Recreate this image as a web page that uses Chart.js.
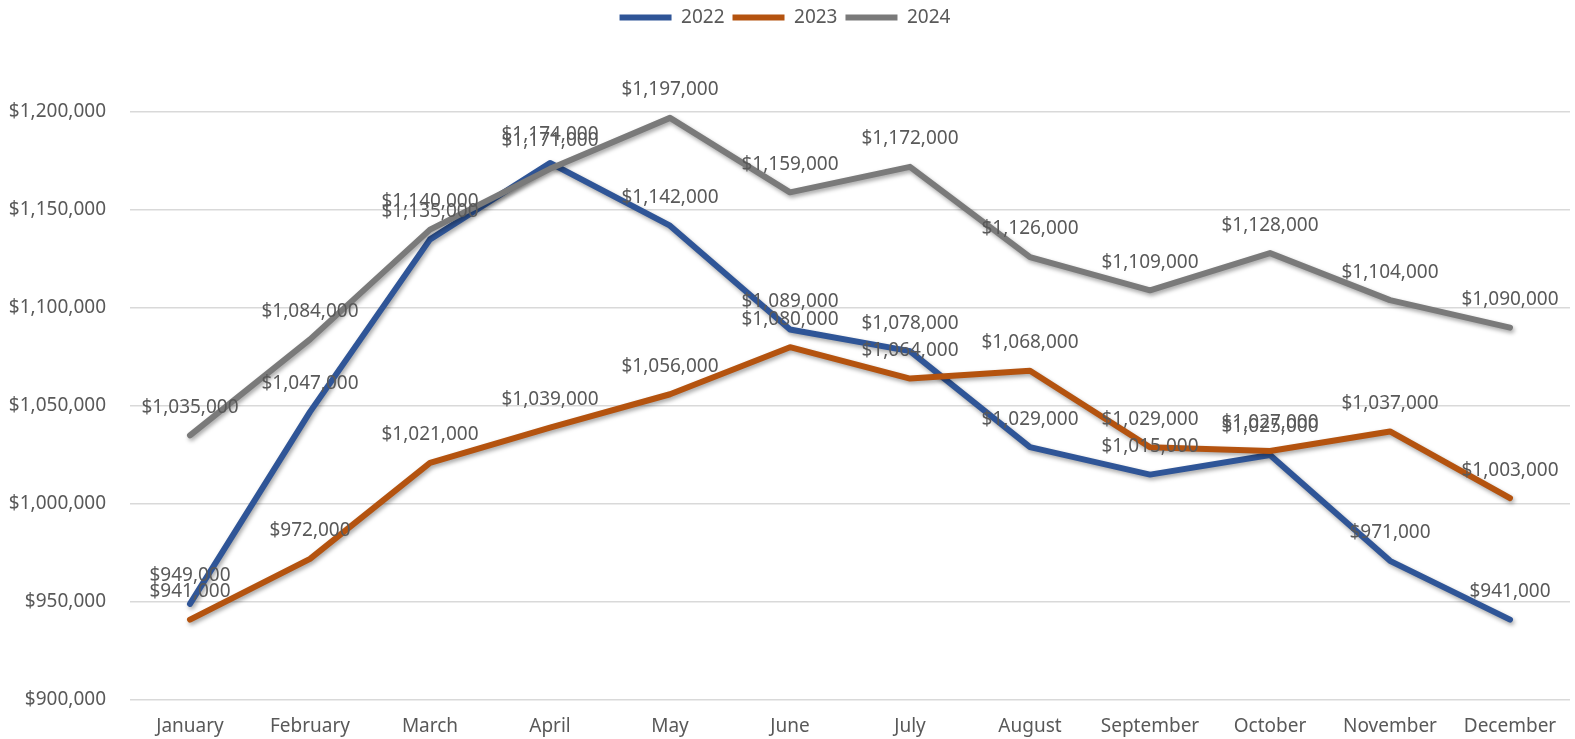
<!DOCTYPE html>
<html>
<head>
<meta charset="utf-8">
<script src="https://cdn.jsdelivr.net/npm/chart.js@4"></script>
<style>
  html, body { margin: 0; padding: 0; background: #fff; }
  #wrap { width: 1575px; height: 739px; }
</style>
</head>
<body>
<div id="wrap"><canvas id="chart" width="1575" height="739"></canvas></div>
<script>
const months = ['January', 'February', 'March', 'April', 'May', 'June', 'July', 'August', 'September', 'October', 'November', 'December'];
const sales2022 = [949000, 1047000, 1135000, 1174000, 1142000, 1089000, 1078000, 1029000, 1015000, 1025000, 971000, 941000];
const sales2023 = [941000, 972000, 1021000, 1039000, 1056000, 1080000, 1064000, 1068000, 1029000, 1027000, 1037000, 1003000];
const sales2024 = [1035000, 1084000, 1140000, 1171000, 1197000, 1159000, 1172000, 1126000, 1109000, 1128000, 1104000, 1090000];
const yMin = 900000;
const yMax = 1200000;
const yStep = 50000;

const textColor = '#595959';
const fontFamily = '"Noto Sans", "Open Sans", sans-serif';
const fontSize = 19;

const money = (v) => '$' + v.toLocaleString('en-US');

// soft drop shadow under every line, like the office chart
const lineShadow = {
  id: 'lineShadow',
  beforeDatasetDraw(chart) {
    const ctx = chart.ctx;
    ctx.save();
    ctx.shadowColor = 'rgba(0, 0, 0, 0.35)';
    ctx.shadowBlur = 4;
    ctx.shadowOffsetX = 1.5;
    ctx.shadowOffsetY = 2.5;
  },
  afterDatasetDraw(chart) {
    chart.ctx.restore();
  },
};

// value labels centred above each point
const valueLabels = {
  id: 'valueLabels',
  afterDatasetsDraw(chart) {
    const ctx = chart.ctx;
    ctx.save();
    ctx.font = fontSize + 'px ' + fontFamily;
    ctx.fillStyle = textColor;
    ctx.textAlign = 'center';
    ctx.textBaseline = 'middle';
    chart.data.datasets.forEach((ds, i) => {
      const meta = chart.getDatasetMeta(i);
      meta.data.forEach((pt, j) => {
        ctx.fillText(money(ds.data[j]), pt.x, pt.y - 28);
      });
    });
    ctx.restore();
  },
};

const makeSet = (label, data, color, order) => ({
  label,
  data,
  borderColor: color,
  backgroundColor: color,
  borderWidth: 6,
  borderCapStyle: 'round',
  borderJoinStyle: 'round',
  pointRadius: 0,
  pointHoverRadius: 0,
  pointStyle: 'line',
  tension: 0,
  fill: false,
  order,
});

new Chart(document.getElementById('chart').getContext('2d'), {
  type: 'line',
  data: {
    labels: months,
    datasets: [
      makeSet('2022', sales2022, '#2F5597', 3),
      makeSet('2023', sales2023, '#B4530F', 2),
      makeSet('2024', sales2024, '#7A7A7A', 1),
    ],
  },
  options: {
    responsive: false,
    animation: false,
    layout: { padding: { top: 0, right: 5, left: 0, bottom: 0 } },
    plugins: {
      legend: {
        position: 'top',
        labels: {
          usePointStyle: true,
          pointStyle: 'line',
          pointStyleWidth: 52,
          padding: 8,
          color: textColor,
          font: { family: fontFamily, size: fontSize },
          sort: (a, b) => a.datasetIndex - b.datasetIndex,
        },
      },
      // empty spacer between legend and plot
      title: {
        display: true,
        text: '',
        weight: 500,
        font: { size: 10, lineHeight: 1 },
        padding: { top: 65, bottom: 0 },
      },
      tooltip: { enabled: false },
    },
    scales: {
      x: {
        offset: true,
        grid: { display: false, drawTicks: false },
        border: { display: false },
        ticks: {
          color: textColor,
          font: { family: fontFamily, size: fontSize },
          padding: 15,
          maxRotation: 0,
        },
        afterFit: (scale) => { scale.height = 39; },
      },
      y: {
        min: yMin,
        max: yMax,
        grid: { color: '#d9d9d9', lineWidth: 1.5, drawTicks: false },
        border: { display: false },
        ticks: {
          stepSize: yStep,
          color: textColor,
          font: { family: fontFamily, size: fontSize },
          padding: 24,
          callback: (value) => money(value),
        },
        afterFit: (scale) => { scale.width = 130; },
      },
    },
  },
  plugins: [lineShadow, valueLabels],
});
</script>
</body>
</html>
